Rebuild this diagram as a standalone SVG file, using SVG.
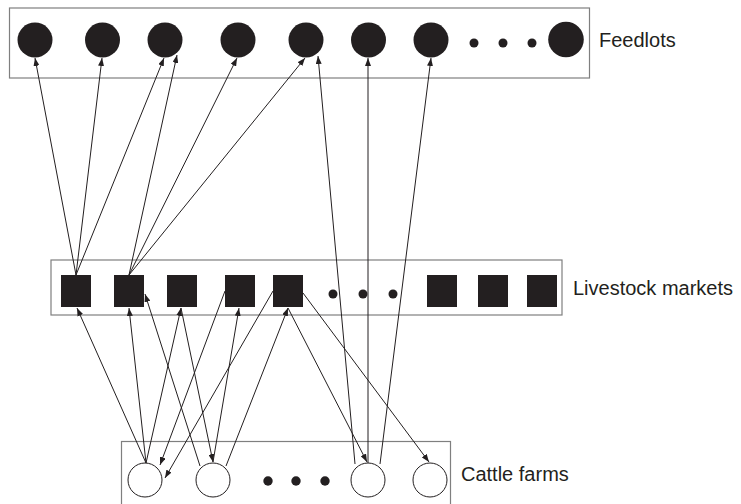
<svg xmlns="http://www.w3.org/2000/svg" width="741" height="504" viewBox="0 0 741 504">
<style>
.box{fill:none;stroke:#7f7f7f;stroke-width:1.2}
.dark{fill:#231f20}
.farm{fill:#fff;stroke:#231f20;stroke-width:1}
.lbl{font-family:"Liberation Sans",Arial,sans-serif;font-size:20px;fill:#231f20}
.c line{stroke:#231f20;stroke-width:1;marker-end:url(#ah)}
</style>
<defs>
<marker id="ah" markerWidth="9" markerHeight="6" refX="8" refY="3" orient="auto" markerUnits="userSpaceOnUse">
<path d="M0,0 L8,3 L0,6 Z" fill="#231f20"/>
</marker>
</defs>
<rect x="0" y="0" width="741" height="504" fill="#fff"/>
<g id="feedlots">
<rect class="box" x="9.5" y="8" width="580" height="70"/>
<circle class="dark" cx="35" cy="40" r="17.5"/>
<circle class="dark" cx="102.5" cy="40" r="17.5"/>
<circle class="dark" cx="165" cy="40" r="17.5"/>
<circle class="dark" cx="238" cy="40" r="17.5"/>
<circle class="dark" cx="306" cy="40" r="17.5"/>
<circle class="dark" cx="368.5" cy="40" r="17.5"/>
<circle class="dark" cx="431" cy="40" r="17.5"/>
<circle class="dark" cx="474" cy="43" r="4.5"/>
<circle class="dark" cx="503" cy="43" r="4.5"/>
<circle class="dark" cx="532" cy="43" r="4.5"/>
<circle class="dark" cx="566" cy="39.5" r="17.8"/>
<text class="lbl" x="599" y="47">Feedlots</text>
</g>
<g id="markets">
<rect class="box" x="51" y="260" width="511" height="55"/>
<rect class="dark" x="61" y="275" width="30" height="32"/>
<rect class="dark" x="114" y="275" width="30" height="32"/>
<rect class="dark" x="167" y="275" width="30" height="32"/>
<rect class="dark" x="225" y="275" width="30" height="32"/>
<rect class="dark" x="273" y="275" width="30" height="32"/>
<circle class="dark" cx="333" cy="294" r="4.5"/>
<circle class="dark" cx="363" cy="294" r="4.5"/>
<circle class="dark" cx="393" cy="294" r="4.5"/>
<rect class="dark" x="427" y="275" width="30" height="32"/>
<rect class="dark" x="478" y="275" width="30" height="32"/>
<rect class="dark" x="527" y="275" width="30" height="32"/>
<text class="lbl" x="573" y="295">Livestock markets</text>
</g>
<g id="farms">
<rect class="box" x="121.5" y="441.5" width="329" height="70"/>
<circle class="farm" cx="145" cy="480" r="17"/>
<circle class="farm" cx="213" cy="480" r="17"/>
<circle class="dark" cx="268" cy="481" r="4.7"/>
<circle class="dark" cx="296" cy="481" r="4.7"/>
<circle class="dark" cx="325" cy="481" r="4.7"/>
<circle class="farm" cx="368" cy="480" r="17"/>
<circle class="farm" cx="430" cy="480" r="17"/>
<text class="lbl" x="461" y="481">Cattle farms</text>
</g>
<g id="connectors" class="c">
<line x1="76" y1="275" x2="35" y2="58"/>
<line x1="76" y1="275" x2="102" y2="58"/>
<line x1="76" y1="275" x2="164" y2="58"/>
<line x1="129" y1="275" x2="177" y2="55"/>
<line x1="129" y1="275" x2="237" y2="58"/>
<line x1="129" y1="275" x2="305" y2="58"/>
<line x1="355" y1="464" x2="318" y2="56"/>
<line x1="368" y1="463" x2="368" y2="58"/>
<line x1="380" y1="464" x2="431" y2="58"/>
<line x1="146" y1="463" x2="77" y2="308"/>
<line x1="146" y1="463" x2="129" y2="308"/>
<line x1="146" y1="463" x2="181" y2="308"/>
<line x1="200" y1="466" x2="145" y2="294"/>
<line x1="213" y1="462" x2="239" y2="308"/>
<line x1="226" y1="466" x2="288" y2="308"/>
<line x1="181" y1="308" x2="213" y2="462"/>
<line x1="225" y1="291" x2="160" y2="465"/>
<line x1="273" y1="291" x2="165" y2="478"/>
<line x1="288" y1="308" x2="367" y2="462"/>
<line x1="303" y1="293" x2="429" y2="462"/>
</g>
</svg>
